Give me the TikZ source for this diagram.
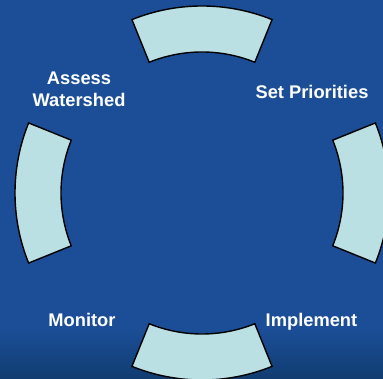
\documentclass[tikz,border=0pt]{standalone}
\usepackage{fontspec}
\setmainfont{Liberation Sans}
\definecolor{bgblue}{HTML}{1B4E97}
\definecolor{bgdark}{HTML}{103C70}
\definecolor{segfill}{HTML}{BBE0E3}
\tikzset{
  segment/.style={fill=segfill, draw=black, line width=1.4pt, line join=miter},
  lbl/.style={text=white, font=\bfseries\fontsize{18.3}{22}\selectfont, align=center, inner sep=0pt},
}
\newcommand{\ringseg}[2]{% start angle, end angle
  \path[segment] ([shift={(#1:187)}]C) arc[start angle=#1, end angle=#2, radius=187]
    -- ([shift={(#2:141)}]C) arc[start angle=#2, end angle=#1, radius=141] -- cycle;}
\begin{document}
\begin{tikzpicture}[x=1pt,y=1pt]
\useasboundingbox (0,0) rectangle (383,379);
\fill[bgblue] (0,0) rectangle (383,379);
\shade[top color=bgblue, bottom color=bgdark] (0,0) rectangle (383,50);
\begin{scope}
\clip (0,0) rectangle (383,379);
\coordinate (C) at (202,186);
\ringseg{68}{112}
\ringseg{-22}{22}
\ringseg{248}{292}
\ringseg{158}{202}
\end{scope}
\node[lbl, anchor=base] (assess) at (79,272) {Assess\\Watershed};
\node[lbl, anchor=base] (setp) at (312,280) {Set Priorities};
\node[lbl, anchor=base] (mon) at (82,52) {Monitor};
\node[lbl, anchor=base] (impl) at (311.5,52) {Implement};
\end{tikzpicture}
\end{document}
